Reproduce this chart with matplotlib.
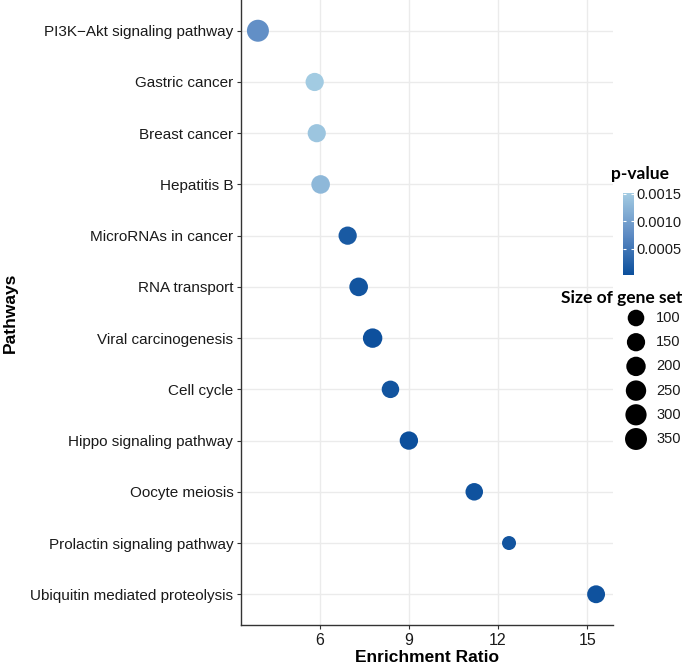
import numpy as np
import matplotlib
matplotlib.use("Agg")
import matplotlib.pyplot as plt
from matplotlib.colors import LinearSegmentedColormap, Normalize
from matplotlib.colorbar import ColorbarBase

# data, top to bottom as shown
pathways = ["PI3K\u2212Akt signaling pathway", "Gastric cancer", "Breast cancer",
            "Hepatitis B", "MicroRNAs in cancer", "RNA transport",
            "Viral carcinogenesis", "Cell cycle", "Hippo signaling pathway",
            "Oocyte meiosis", "Prolactin signaling pathway",
            "Ubiquitin mediated proteolysis"]
enrichment = [3.92, 5.83, 5.90, 6.03, 6.94, 7.31, 7.78, 8.38, 9.00, 11.20, 12.37, 15.30]
pvalues = [0.00080, 0.00150, 0.00143, 0.00128, 0.00015, 0.00008, 0.00004,
           0.00008, 0.00003, 0.00006, 0.00008, 0.00006]
gene_set_size = [354, 149, 147, 163, 150, 165, 201, 124, 154, 125, 70, 137]
size_breaks = [100, 150, 200, 250, 300, 350]
x_ticks = [6, 9, 12, 15]
p_ticks = [0.0005, 0.0010, 0.0015]
p_labels = ["0.0005", "0.0010", "0.0015"]

W, H, DPI = 685, 668, 100
plt.rcParams['font.family'] = ['Liberation Sans', 'DejaVu Sans']

cmap = LinearSegmentedColormap.from_list(
    "pv", [(0.0, "#0b4f9c"), (0.5, "#5f8cc4"), (1.0, "#a3cbe2")])
norm = Normalize(vmin=0.00002, vmax=0.00151)

smin, smax = min(gene_set_size), max(gene_set_size)
def marker_area(v):
    # ggplot-like area scaling, diameter in pixels -> points^2
    v = np.asarray(v, dtype=float)
    d_px = 14 + 8 * np.sqrt(np.clip((v - smin) / (smax - smin), 0, 1))
    return (d_px * 72 / DPI) ** 2

fig = plt.figure(figsize=(W / DPI, H / DPI), dpi=DPI)
ax = fig.add_axes([241 / W, 1 - 625 / H, (613 - 241) / W, 625 / H])

ypos = np.arange(len(pathways))[::-1]
ax.scatter(enrichment, ypos, s=marker_area(gene_set_size), c=pvalues,
           cmap=cmap, norm=norm, edgecolors='none', zorder=3)

rng = max(enrichment) - min(enrichment)
ax.set_xlim(min(enrichment) - 0.05 * rng, max(enrichment) + 0.05 * rng)
ax.set_ylim(-0.6, len(pathways) - 0.4)
ax.set_xticks(x_ticks)
ax.set_xticklabels([str(t) for t in x_ticks])
ax.set_yticks(ypos)
ax.set_yticklabels(pathways)
ax.grid(True, color="#ebebeb", linewidth=1.0, zorder=0)
for s in ["top", "right"]:
    ax.spines[s].set_visible(False)
for s in ["left", "bottom"]:
    ax.spines[s].set_color("#333333")
    ax.spines[s].set_linewidth(1.0)
ax.tick_params(axis='y', length=3, color="#333333", labelsize=11,
               labelcolor="#1a1a1a", pad=2.5)
ax.tick_params(axis='x', length=3, color="#333333", labelsize=11.5,
               labelcolor="#1a1a1a", pad=3)
ax.set_xlabel("Enrichment Ratio", fontsize=12.5, fontweight='bold', va='center')
ax.set_ylabel("Pathways", fontsize=12.5, fontweight='bold', va='center')
ax.xaxis.set_label_coords(0.5, (625 - 658) / 625)
ax.yaxis.set_label_coords((10 - 241) / 372, 0.5)

# colour legend
fig.text(640 / W, 1 - 174 / H, "p-value", ha='center', va='center',
         family=['Lato', 'DejaVu Sans'], fontweight='bold', fontsize=12.5)
cax = fig.add_axes([623 / W, 1 - 275 / H, 11 / W, 82 / H])
cb = ColorbarBase(cax, cmap=cmap, norm=norm, orientation='vertical')
cb.outline.set_visible(False)
cb.set_ticks(p_ticks)
cb.set_ticklabels(p_labels)
cax.tick_params(length=2.5, color='white', direction='in', labelsize=10.5,
                labelcolor="#1a1a1a", pad=2, left=True, right=True)

# size legend
fig.text(621.5 / W, 1 - 298 / H, "Size of gene set", ha='center', va='center',
         family=['Lato', 'DejaVu Sans'], fontweight='bold', fontsize=12.5)
sax = fig.add_axes([620 / W, 1 - 460 / H, 65 / W, 160 / H])
sax.set_axis_off()
sy = np.arange(len(size_breaks))[::-1]
sax.scatter(np.full(len(size_breaks), 16), sy, s=marker_area(size_breaks),
            color='black', edgecolors='none', clip_on=False)
for yy, b in zip(sy, size_breaks):
    sax.text(36, yy, str(b), va='center', ha='left', fontsize=10.5, color="#1a1a1a")
sax.set_xlim(0, 65)
sax.set_ylim(-0.868, 5.744)

fig.savefig("out.png", dpi=DPI)
